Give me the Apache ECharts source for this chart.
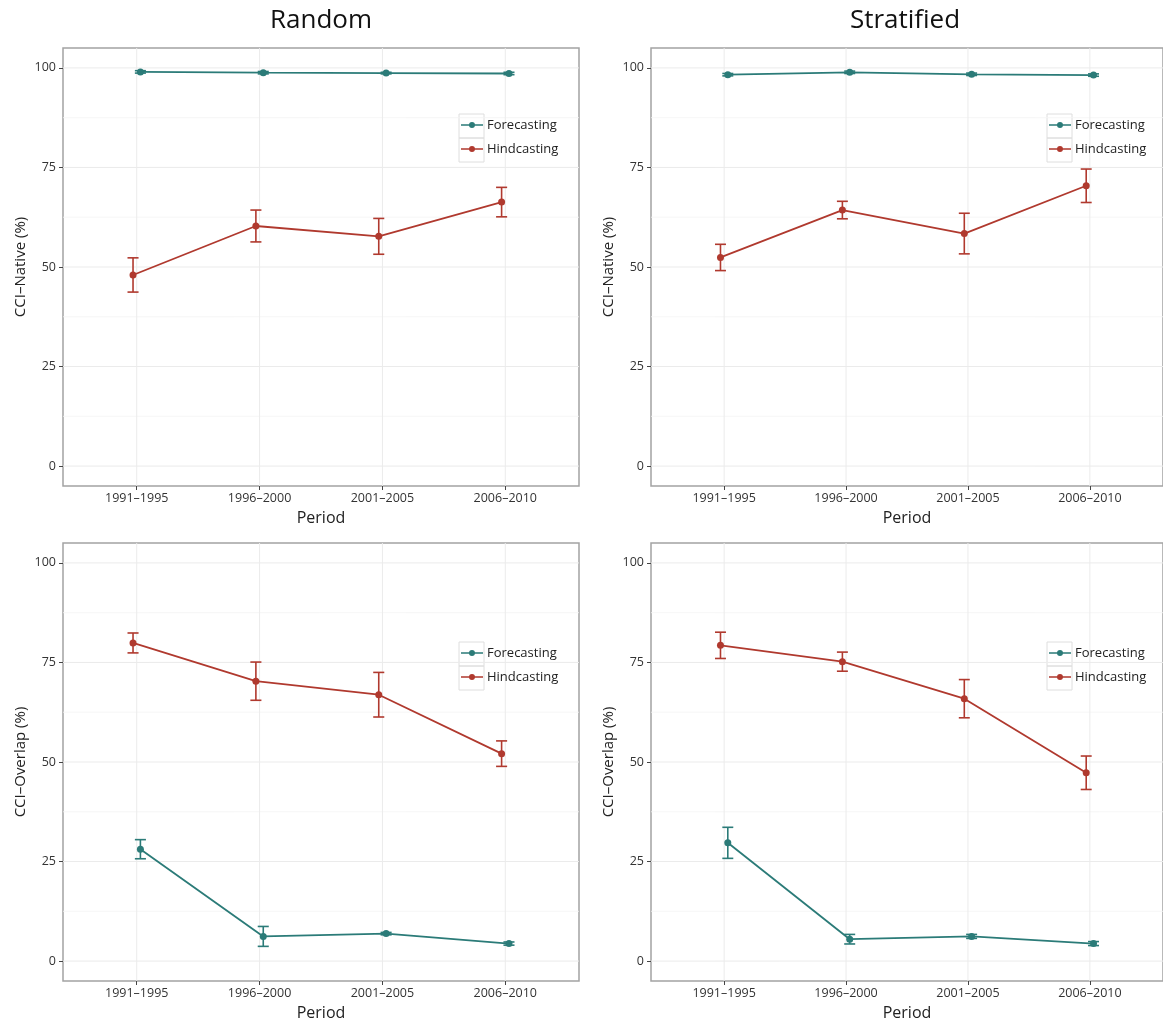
<!DOCTYPE html>
<html>
<head>
<meta charset="utf-8">
<script src="https://cdn.jsdelivr.net/npm/echarts@6/dist/echarts.min.js"></script>
<style>
  html, body { margin: 0; padding: 0; background: #ffffff; }
  #chart { width: 1163px; height: 1027px; }
</style>
</head>
<body>
<div id="chart"></div>
<script>
// Sampling periods on the x axis
const periods = ['1991–1995', '1996–2000', '2001–2005', '2006–2010'];
const yTickValues = [0, 25, 50, 75, 100];
const yMinorValues = [12.5, 37.5, 62.5, 87.5];
const groupNames = ['Forecasting', 'Hindcasting'];
const columnTitles = ['Random', 'Stratified'];
const rowAxisTitles = ['CCI–Native (%)', 'CCI–Overlap (%)'];

// CCI-Native, random sampling: mean and error half-width
const nativeRandomFc = [99.0, 98.8, 98.7, 98.6];
const nativeRandomFcErr = [0.3, 0.3, 0.2, 0.3];
const nativeRandomHc = [48.0, 60.3, 57.7, 66.3];
const nativeRandomHcErr = [4.3, 4.0, 4.5, 3.7];

// CCI-Native, stratified sampling
const nativeStratFc = [98.3, 98.9, 98.4, 98.2];
const nativeStratFcErr = [0.3, 0.3, 0.3, 0.3];
const nativeStratHc = [52.4, 64.3, 58.4, 70.4];
const nativeStratHcErr = [3.3, 2.2, 5.1, 4.2];

// CCI-Overlap, random sampling
const overlapRandomFc = [28.1, 6.2, 6.9, 4.4];
const overlapRandomFcErr = [2.4, 2.5, 0.3, 0.4];
const overlapRandomHc = [79.9, 70.3, 66.9, 52.1];
const overlapRandomHcErr = [2.5, 4.8, 5.6, 3.2];

// CCI-Overlap, stratified sampling
const overlapStratFc = [29.7, 5.5, 6.2, 4.4];
const overlapStratFcErr = [3.9, 1.2, 0.5, 0.5];
const overlapStratHc = [79.3, 75.2, 65.9, 47.3];
const overlapStratHcErr = [3.3, 2.4, 4.8, 4.2];

// ---- layout and style ----
const FONT = '"Open Sans", "Noto Sans", sans-serif';
const COLOR_FC = '#2B7B78';
const COLOR_HC = '#B0392E';
const DODGE = { Forecasting: 0.03, Hindcasting: -0.03 };
const CAP_HALF = 0.045;
const X_MIN = 0.4, X_MAX = 4.6, Y_MIN = -5, Y_MAX = 105;
// legend key glyph: short line with a dot in the middle
const KEY_ICON = 'path://M0,3.3L8.2,3.3L8.2,4.7L0,4.7Z M13.8,3.3L22,3.3L22,4.7L13.8,4.7Z M11,1A3,3 0 1,1 10.99,1Z';

const panels = [
  { grid: { left: 63, top: 48, width: 516, height: 438 }, col: 0, row: 0,
    fc: nativeRandomFc, fcErr: nativeRandomFcErr, hc: nativeRandomHc, hcErr: nativeRandomHcErr },
  { grid: { left: 651, top: 48, width: 516, height: 438 }, col: 1, row: 0,
    fc: nativeStratFc, fcErr: nativeStratFcErr, hc: nativeStratHc, hcErr: nativeStratHcErr },
  { grid: { left: 63, top: 543, width: 516, height: 438 }, col: 0, row: 1,
    fc: overlapRandomFc, fcErr: overlapRandomFcErr, hc: overlapRandomHc, hcErr: overlapRandomHcErr },
  { grid: { left: 651, top: 543, width: 516, height: 438 }, col: 1, row: 1,
    fc: overlapStratFc, fcErr: overlapStratFcErr, hc: overlapStratHc, hcErr: overlapStratHcErr }
];

// Error bar: vertical whisker with horizontal caps
function renderErrorBar(params, api) {
  const x = api.value(0), y = api.value(1), e = api.value(2);
  const top = api.coord([x, y + e]);
  const bot = api.coord([x, y - e]);
  const tl = api.coord([x - CAP_HALF, y + e]);
  const tr = api.coord([x + CAP_HALF, y + e]);
  const bl = api.coord([x - CAP_HALF, y - e]);
  const br = api.coord([x + CAP_HALF, y - e]);
  const style = { stroke: api.visual('color'), lineWidth: 1.6, fill: null };
  return {
    type: 'group',
    children: [
      { type: 'line', shape: { x1: top[0], y1: top[1], x2: bot[0], y2: bot[1] }, style },
      { type: 'line', shape: { x1: tl[0], y1: tl[1], x2: tr[0], y2: tr[1] }, style },
      { type: 'line', shape: { x1: bl[0], y1: bl[1], x2: br[0], y2: br[1] }, style }
    ]
  };
}

// Panel background grid: kind 0 = major horizontal, 1 = minor horizontal, 2 = vertical
function renderGridLine(params, api) {
  const kind = api.value(0), v = api.value(1);
  let a, b;
  if (kind === 2) { a = api.coord([v, Y_MIN]); b = api.coord([v, Y_MAX]); }
  else { a = api.coord([X_MIN, v]); b = api.coord([X_MAX, v]); }
  return {
    type: 'line',
    shape: { x1: a[0], y1: a[1], x2: b[0], y2: b[1] },
    style: { stroke: kind === 1 ? '#f4f4f4' : '#ebebeb', lineWidth: kind === 1 ? 0.8 : 1 }
  };
}

const gridLineData = []
  .concat(yTickValues.map(v => [0, v]))
  .concat(yMinorValues.map(v => [1, v]))
  .concat(periods.map((p, i) => [2, i + 1]));

const option = {
  backgroundColor: '#ffffff',
  animation: false,
  textStyle: { fontFamily: FONT },
  grid: [], xAxis: [], yAxis: [], series: [], legend: [], graphic: []
};

panels.forEach((p, gi) => {
  option.grid.push(Object.assign({
    show: true, backgroundColor: '#ffffff', borderColor: '#a3a3a3', borderWidth: 1.5,
    containLabel: false
  }, p.grid));

  option.xAxis.push({
    type: 'value', gridIndex: gi, min: X_MIN, max: X_MAX, position: 'bottom',
    name: 'Period', nameLocation: 'middle', nameGap: 24,
    nameTextStyle: { fontFamily: FONT, fontSize: 16, color: '#222' },
    axisLine: { show: false, onZero: false },
    axisTick: { show: true, length: 4, customValues: [1, 2, 3, 4], lineStyle: { color: '#444', width: 1 } },
    axisLabel: {
      customValues: [1, 2, 3, 4], margin: 6, fontFamily: FONT, fontSize: 12.5, color: '#333',
      formatter: v => periods[Math.round(v) - 1] || ''
    },
    splitLine: { show: false }
  });

  option.yAxis.push({
    type: 'value', gridIndex: gi, min: Y_MIN, max: Y_MAX, position: 'left',
    name: rowAxisTitles[p.row], nameLocation: 'middle', nameGap: 35, nameRotate: 90,
    nameTextStyle: { fontFamily: FONT, fontSize: 15, color: '#222' },
    axisLine: { show: false, onZero: false },
    axisTick: { show: true, length: 4, customValues: yTickValues, lineStyle: { color: '#444', width: 1 } },
    axisLabel: { customValues: yTickValues, margin: 7, fontFamily: FONT, fontSize: 12.5, color: '#333' },
    splitLine: { show: false }
  });

  option.series.push({
    type: 'custom', name: 'grid-lines-' + gi, xAxisIndex: gi, yAxisIndex: gi,
    silent: true, z: 1, renderItem: renderGridLine, data: gridLineData
  });

  const groups = [
    { name: 'Forecasting', color: COLOR_FC, vals: p.fc, errs: p.fcErr },
    { name: 'Hindcasting', color: COLOR_HC, vals: p.hc, errs: p.hcErr }
  ];
  groups.forEach(g => {
    const off = DODGE[g.name];
    option.series.push({
      type: 'custom', name: g.name, xAxisIndex: gi, yAxisIndex: gi, z: 3,
      itemStyle: { color: g.color }, renderItem: renderErrorBar,
      encode: { x: 0, y: 1 },
      data: g.vals.map((v, i) => [i + 1 + off, v, g.errs[i]])
    });
    option.series.push({
      type: 'line', name: g.name, xAxisIndex: gi, yAxisIndex: gi, z: 4,
      symbol: 'circle', symbolSize: 7, showSymbol: true,
      itemStyle: { color: g.color }, lineStyle: { color: g.color, width: 1.8 },
      data: g.vals.map((v, i) => [i + 1 + off, v])
    });
  });

  // legend with a boxed key per entry
  const legLeft = p.grid.left + 396;
  const legTop = p.grid.top + (p.row === 0 ? 66 : 99);
  option.legend.push({
    data: groupNames.map(n => ({ name: n, icon: KEY_ICON })),
    orient: 'vertical', left: legLeft + 2, top: legTop + 4,
    itemWidth: 22, itemHeight: 8, itemGap: 10, padding: 0, selectedMode: false,
    textStyle: { fontFamily: FONT, fontSize: 13, color: '#222', lineHeight: 14, padding: [0, 0, 0, -1] }
  });
  [0, 1].forEach(k => {
    option.graphic.push({
      type: 'rect', silent: true, z: 0,
      shape: { x: legLeft, y: legTop + k * 24, width: 25, height: 24 },
      style: { fill: 'none', stroke: '#dedede', lineWidth: 1 }
    });
  });
});

columnTitles.forEach((t, c) => {
  option.graphic.push({
    type: 'text', x: c === 0 ? 321 : 905, y: 21, silent: true,
    style: { text: t, textAlign: 'center', textVerticalAlign: 'middle',
             font: '26px ' + FONT, fill: '#111' }
  });
});

const chart = echarts.init(document.getElementById('chart'), null, { renderer: 'canvas' });
chart.setOption(option);
</script>
</body>
</html>
